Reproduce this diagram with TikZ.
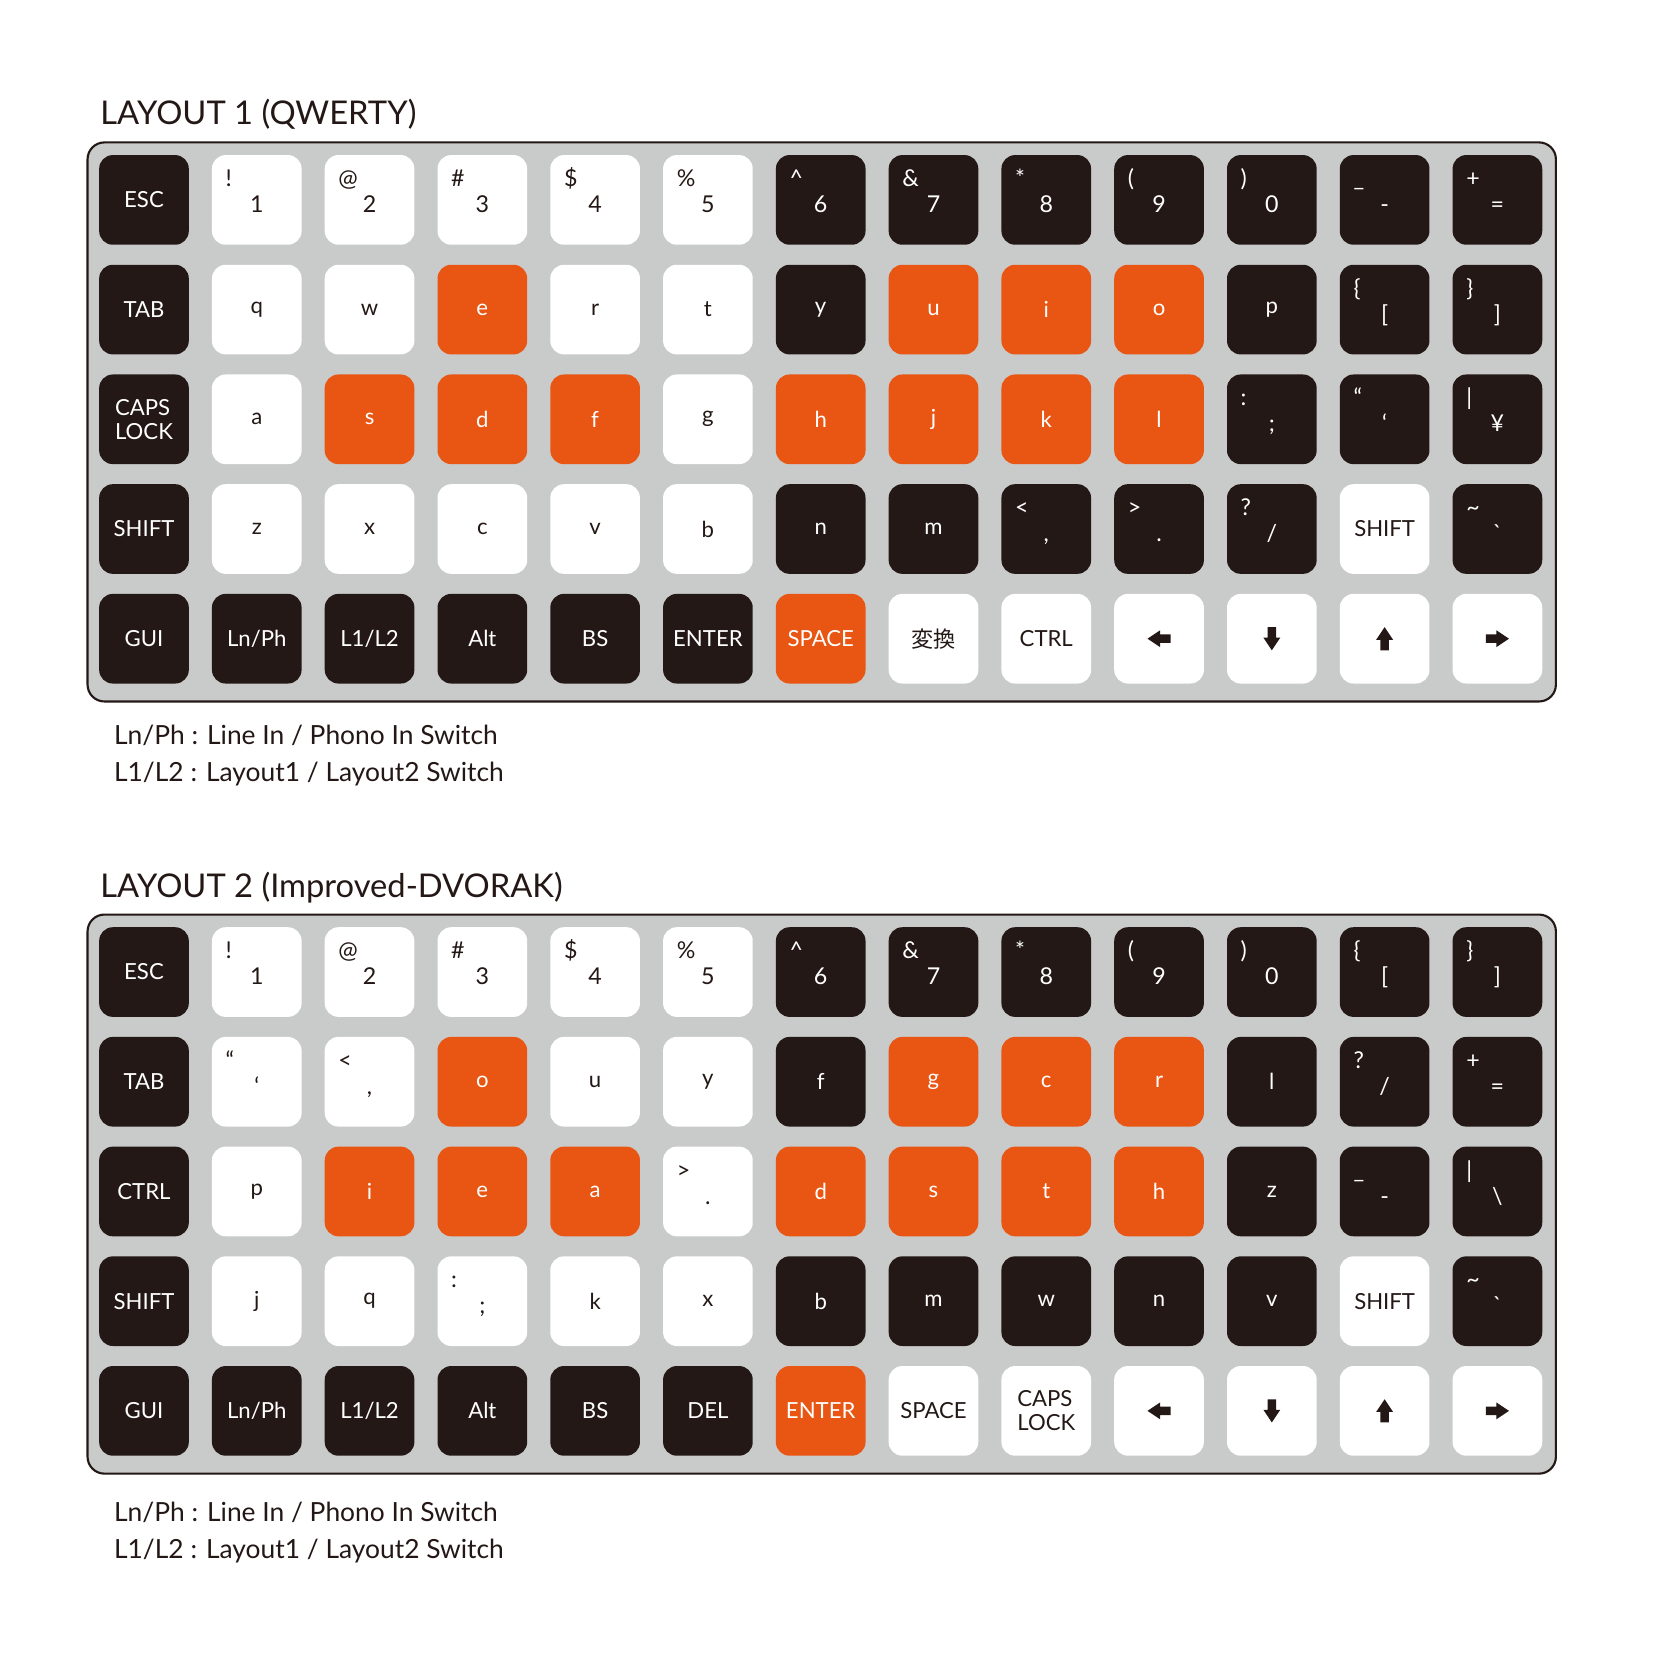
\documentclass[tikz,border=0pt]{standalone}
\usepackage{fontspec}
\setmainfont{Lato}
\newfontfamily\cjkfont{Noto Sans CJK JP}
\usetikzlibrary{calc}

\definecolor{keyblack}{HTML}{231815}
\definecolor{keyorange}{HTML}{E95513}
\definecolor{boardgray}{HTML}{C9CACA}

\tikzset{
  board/.style={draw=keyblack, line width=2pt, fill=boardgray, rounded corners=16pt, minimum width=1392, minimum height=530},
  key/.style={rounded corners=13pt, minimum width=85, minimum height=85, inner sep=0pt, align=left, font=\fontsize{21}{23}\selectfont},
  keyd/.style={key, fill=keyblack, text=white},
  keyw/.style={key, fill=white, text=keyblack},
  keyo/.style={key, fill=keyorange, text=white},
  leg/.style={inner sep=0pt, font=\fontsize{22}{24}\selectfont},
  legd/.style={leg, text=white},
  legw/.style={leg, text=keyblack},
  lego/.style={leg, text=white},
  title/.style={inner sep=0pt, text=keyblack, font=\fontsize{31}{34}\selectfont},
  note/.style={inner sep=0pt, text=keyblack, font=\fontsize{25}{28}\selectfont}
}

% one row of keys: layout, row, centre y, {upper/lower/kind,...}
\newcommand{\keyrow}[4]{%
  \foreach \kup/\klo/\kkind [count=\c from 0] in {#4} {
    \ifx\kup\empty
      \node[key\kkind] (k#1-#2-\c) at ({136.5+\c*106.92},#3) {\klo};
    \else
      \node[key\kkind] (k#1-#2-\c) at ({136.5+\c*106.92},#3) {};
      \node[leg\kkind, anchor=base west] (k#1-#2-\c-hi) at ($(k#1-#2-\c.north west)+(13,30)$) {\kup};
      \node[leg\kkind, anchor=base] (k#1-#2-\c-lo) at ($(k#1-#2-\c.center)+(0,12)$) {\klo};
    \fi
  }}

% block arrow on a cursor key
\newcommand{\arrowglyph}[2]{%
  \fill[keyblack, shift={(#1)}, rotate=#2] (-11,-4) -- (-1,-4) -- (-1,-8) -- (11,0) -- (-1,8) -- (-1,4) -- (-11,4) -- cycle;}

\begin{document}
\begin{tikzpicture}[x=1pt, y=-1pt]

  \fill[white] (0,0) rectangle (1568,1568);
  \useasboundingbox (0,0) rectangle (1568,1568);

  % layout 1
  \node[title, anchor=base west] (title1) at (95,118) {LAYOUT 1 (QWERTY)};
  \node[board] (board1) at (779,400) {};

  \keyrow{1}{0}{189.5}{{}/ESC/d, !/1/w, @/2/w, \#/3/w, \$/4/w, \%/5/w, \textasciicircum/6/d, \&/7/d, */8/d, {(}/9/d, {)}/0/d, \_/-/d, +/=/d}
  \keyrow{1}{1}{293.5}{{}/TAB/d, {}/q/w, {}/w/w, {}/e/o, {}/r/w, {}/t/w, {}/y/d, {}/u/o, {}/i/o, {}/o/o, {}/p/d, \{/{[}/d, \}/{]}/d}
  \keyrow{1}{2}{397.5}{{}/{CAPS\\LOCK}/d, {}/a/w, {}/s/o, {}/d/o, {}/f/o, {}/g/w, {}/h/o, {}/j/o, {}/k/o, {}/l/o, :/;/d, “/‘/d, \textbar/¥/d}
  \keyrow{1}{3}{501.5}{{}/SHIFT/d, {}/z/w, {}/x/w, {}/c/w, {}/v/w, {}/b/w, {}/n/d, {}/m/d, </{,}/d, >/./d, ?/{/}/d, {}/SHIFT/w, \textasciitilde/\textasciigrave/d}
  \keyrow{1}{4}{605.5}{{}/GUI/d, {}/{Ln/Ph}/d, {}/{L1/L2}/d, {}/Alt/d, {}/BS/d, {}/ENTER/d, {}/SPACE/o, {}/{\cjkfont 変換}/w, {}/CTRL/w, {}/{}/w, {}/{}/w, {}/{}/w, {}/{}/w}

  \arrowglyph{k1-4-9}{180}
  \arrowglyph{k1-4-10}{270}
  \arrowglyph{k1-4-11}{90}
  \arrowglyph{k1-4-12}{0}

  \node[note, anchor=base west] (note1a) at (108,706) {Ln/Ph : Line In / Phono In Switch};
  \node[note, anchor=base west] (note1b) at (108,741) {L1/L2 : Layout1 / Layout2 Switch};

  % layout 2
  \node[title, anchor=base west] (title2) at (95,851) {LAYOUT 2 (Improved-DVORAK)};
  \node[board] (board2) at (779,1132) {};

  \keyrow{2}{0}{921.5}{{}/ESC/d, !/1/w, @/2/w, \#/3/w, \$/4/w, \%/5/w, \textasciicircum/6/d, \&/7/d, */8/d, {(}/9/d, {)}/0/d, \{/{[}/d, \}/{]}/d}
  \keyrow{2}{1}{1025.5}{{}/TAB/d, “/‘/w, </{,}/w, {}/o/o, {}/u/w, {}/y/w, {}/f/d, {}/g/o, {}/c/o, {}/r/o, {}/l/d, ?/{/}/d, +/=/d}
  \keyrow{2}{2}{1129.5}{{}/CTRL/d, {}/p/w, {}/i/o, {}/e/o, {}/a/o, >/./w, {}/d/o, {}/s/o, {}/t/o, {}/h/o, {}/z/d, \_/-/d, \textbar/\textbackslash/d}
  \keyrow{2}{3}{1233.5}{{}/SHIFT/d, {}/j/w, {}/q/w, :/;/w, {}/k/w, {}/x/w, {}/b/d, {}/m/d, {}/w/d, {}/n/d, {}/v/d, {}/SHIFT/w, \textasciitilde/\textasciigrave/d}
  \keyrow{2}{4}{1337.5}{{}/GUI/d, {}/{Ln/Ph}/d, {}/{L1/L2}/d, {}/Alt/d, {}/BS/d, {}/DEL/d, {}/ENTER/o, {}/SPACE/w, {}/{CAPS\\LOCK}/w, {}/{}/w, {}/{}/w, {}/{}/w, {}/{}/w}

  \arrowglyph{k2-4-9}{180}
  \arrowglyph{k2-4-10}{270}
  \arrowglyph{k2-4-11}{90}
  \arrowglyph{k2-4-12}{0}

  \node[note, anchor=base west] (note2a) at (108,1442) {Ln/Ph : Line In / Phono In Switch};
  \node[note, anchor=base west] (note2b) at (108,1477) {L1/L2 : Layout1 / Layout2 Switch};

\end{tikzpicture}
\end{document}
